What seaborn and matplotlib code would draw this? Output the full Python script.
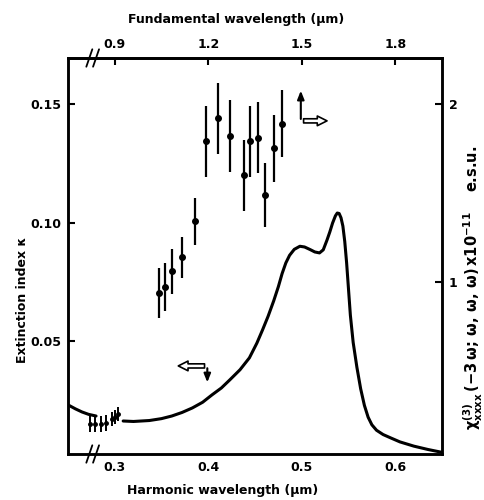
import numpy as np
import pandas as pd
import matplotlib
matplotlib.use("Agg")
import matplotlib.pyplot as plt
import seaborn as sns

# extinction index curve (left axis), broken around 0.28-0.31
curve_lo_wl = [0.250, 0.258, 0.265, 0.272, 0.280]
curve_lo_k = [0.0232, 0.0215, 0.0202, 0.0192, 0.0185]
curve_hi_wl = [0.309, 0.320, 0.337, 0.350, 0.361, 0.372, 0.383, 0.394, 0.404, 0.414,
               0.423, 0.434, 0.444, 0.452, 0.458, 0.464, 0.470, 0.475, 0.479, 0.483,
               0.487, 0.492, 0.498, 0.503, 0.509, 0.514, 0.519, 0.523, 0.527, 0.530,
               0.533, 0.536, 0.538, 0.540, 0.542, 0.544, 0.546, 0.548, 0.550, 0.552,
               0.555, 0.559, 0.563, 0.567, 0.571, 0.575, 0.580, 0.587, 0.595, 0.605,
               0.620, 0.635, 0.650]
curve_hi_k = [0.0164, 0.0162, 0.0166, 0.0174, 0.0185, 0.0200, 0.0219, 0.0243, 0.0274, 0.0303,
              0.0337, 0.0380, 0.0430, 0.0492, 0.0547, 0.0605, 0.0670, 0.0730, 0.0785, 0.0830,
              0.0862, 0.0887, 0.0900, 0.0897, 0.0886, 0.0876, 0.0872, 0.0885, 0.0926, 0.0960,
              0.0998, 0.1028, 0.1040, 0.1038, 0.1020, 0.0985, 0.0920, 0.0830, 0.0720, 0.0610,
              0.0495, 0.0390, 0.0300, 0.0230, 0.0180, 0.0148, 0.0125, 0.0107, 0.0093, 0.0076,
              0.0058, 0.0044, 0.0032]

# chi(3) measurements (right axis)
chi_wl = [0.347, 0.354, 0.361, 0.372, 0.386, 0.398, 0.410, 0.423, 0.438, 0.445,
          0.453, 0.461, 0.470, 0.479]
chi_val = [0.94, 0.97, 1.06, 1.14, 1.34, 1.79, 1.92, 1.82, 1.60, 1.79,
           1.81, 1.49, 1.75, 1.89]
chi_err = [0.14, 0.135, 0.125, 0.115, 0.13, 0.20, 0.20, 0.20, 0.20, 0.20,
           0.20, 0.18, 0.19, 0.19]
chi_lo_wl = [0.274, 0.279, 0.285, 0.291, 0.297, 0.300, 0.303]
chi_lo_val = [0.20, 0.20, 0.20, 0.21, 0.23, 0.24, 0.26]
chi_lo_err = [0.045, 0.045, 0.045, 0.045, 0.04, 0.04, 0.04]

bottom_ticks = [0.3, 0.4, 0.5, 0.6]
top_ticks = [0.9, 1.2, 1.5, 1.8]
left_ticks = [0.05, 0.10, 0.15]
right_ticks = [1, 2]

sns.set_style("white")
plt.rcParams['font.family'] = ['DejaVu Sans']
plt.rcParams['font.weight'] = 'bold'
plt.rcParams['mathtext.default'] = 'bf'
for key in ('text.color', 'axes.labelcolor', 'xtick.color', 'ytick.color', 'axes.edgecolor'):
    plt.rcParams[key] = 'black'

fig = plt.figure(figsize=(4.84, 5.0), dpi=100)
ax = fig.add_axes([0.1405, 0.092, 0.7727, 0.792])

lo = pd.DataFrame({"wl": curve_lo_wl, "k": curve_lo_k})
hi = pd.DataFrame({"wl": curve_hi_wl, "k": curve_hi_k})
sns.lineplot(data=lo, x="wl", y="k", ax=ax, color="black", lw=2.2, sort=False)
sns.lineplot(data=hi, x="wl", y="k", ax=ax, color="black", lw=2.2, sort=False)

ax.set_xlim(0.25, 0.65)
ax.set_ylim(0.0025, 0.1693)
ax.set_xticks(bottom_ticks)
ax.set_xticklabels([f"{t:.1f}" for t in bottom_ticks])
ax.set_yticks(left_ticks)
ax.set_yticklabels([f"{t:.2f}" for t in left_ticks])
ax.set_xlabel("Harmonic wavelength (μm)", fontsize=9, fontweight="bold", labelpad=7)
ax.set_ylabel("Extinction index κ", fontsize=9, fontweight="bold", labelpad=1)
ax.xaxis.label.set_x(0.414)
ax.yaxis.label.set_y(0.39)

ax2 = ax.twinx()
ax2.set_ylim(0.034, 2.258)
ax2.errorbar(chi_wl, chi_val, yerr=chi_err, fmt="o", color="black", ms=4,
             elinewidth=1.6, capsize=0)
ax2.errorbar(chi_lo_wl, chi_lo_val, yerr=chi_lo_err, fmt="o", color="black", ms=2.5,
             elinewidth=1.4, capsize=0)
ax2.set_yticks(right_ticks)
ax2.set_yticklabels([str(t) for t in right_ticks])
ax2.set_ylabel(r"$\chi^{(3)}_{xxxx}\,(-3\,\omega;\,\omega,\,\omega,\,\omega)\,\mathrm{x}10^{-11}$    e.s.u.",
               fontsize=10.5, fontweight="bold", labelpad=3)
ax2.yaxis.label.set_y(0.42)

top = ax.secondary_xaxis("top", functions=(lambda x: 3 * x, lambda x: x / 3))
top.set_xticks(top_ticks)
top.set_xticklabels([f"{t:.1f}" for t in top_ticks])
top.set_xlabel("Fundamental wavelength (μm)", fontsize=9, fontweight="bold", labelpad=11)
top.xaxis.label.set_x(0.45)

for a in (ax, ax2):
    for s in a.spines.values():
        s.set_linewidth(1.8)
        s.set_color("black")
ax.tick_params(axis="both", direction="in", length=5, width=1.5, labelsize=9, pad=5)
ax2.tick_params(axis="y", direction="in", length=5, width=1.5, labelsize=9, pad=5)
top.tick_params(direction="in", length=5, width=1.5, labelsize=9, pad=5)
top.spines["top"].set_linewidth(1.8)
for lab in ax.get_xticklabels() + ax.get_yticklabels() + ax2.get_yticklabels() + top.get_xticklabels():
    lab.set_fontweight("bold")

# axis break marks
for yb in (0.0, 1.0):
    for xb in (0.057, 0.075):
        ax.plot([xb - 0.008, xb + 0.008], [yb - 0.022, yb + 0.022], transform=ax.transAxes,
                color="black", lw=1.3, clip_on=False)

# axis indicator arrows
hollow = dict(arrowstyle="simple,head_width=0.7,head_length=0.7,tail_width=0.3",
              fc="white", ec="black", lw=1.2)
ax.annotate("", xy=(0.365, 0.0396), xytext=(0.399, 0.0396), arrowprops=hollow)
ax.annotate("", xy=(0.399, 0.0315), xytext=(0.399, 0.0398),
            arrowprops=dict(arrowstyle="-|>,head_width=0.2,head_length=0.5", color="black", lw=1.5))
ax2.annotate("", xy=(0.530, 1.905), xytext=(0.499, 1.905), arrowprops=hollow)
ax2.annotate("", xy=(0.499, 2.09), xytext=(0.499, 1.90),
             arrowprops=dict(arrowstyle="-|>,head_width=0.2,head_length=0.5", color="black", lw=1.5))

fig.savefig("out.png", dpi=100)
